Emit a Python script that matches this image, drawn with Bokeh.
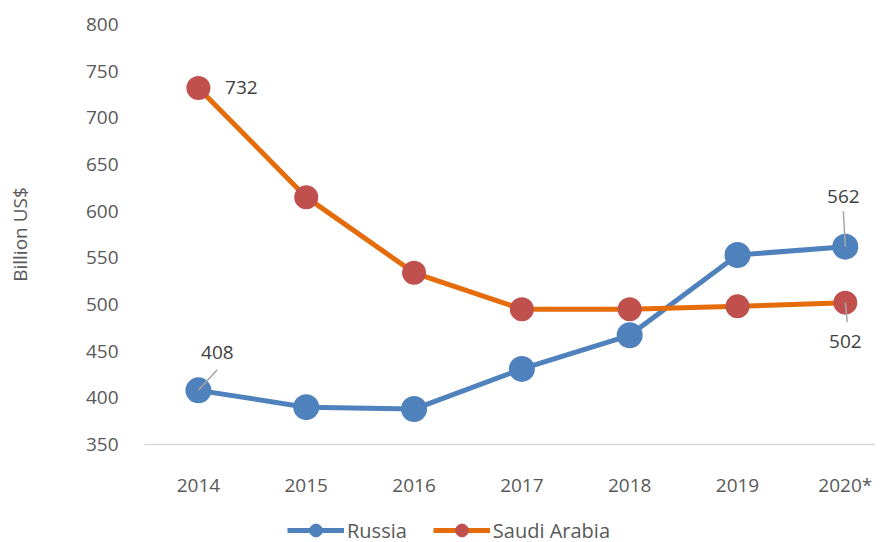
from bokeh.plotting import figure
from bokeh.layouts import column
from bokeh.models import Range1d, FixedTicker, Legend, LegendItem, ColumnDataSource
from bokeh.core.properties import value
from bokeh.embed import file_html
from bokeh.resources import INLINE

years = ["2014", "2015", "2016", "2017", "2018", "2019", "2020*"]
russia = [408, 390, 388, 431, 467, 553, 562]
saudi = [732, 615, 534, 495, 495, 498, 502]
y_ticks = [350, 400, 450, 500, 550, 600, 650, 700, 750, 800]
series_names = ["Russia", "Saudi Arabia"]

FONT = "Open Sans"
BLUE, ORANGE, RED = "#4F81BD", "#E46C0A", "#C0504D"
x = list(range(len(years)))

p = figure(width=875, height=500, output_backend="svg", toolbar_location=None,
           x_range=Range1d(-0.5, 6.28), y_range=Range1d(350, 800),
           min_border_left=144, min_border_right=0, min_border_top=24, min_border_bottom=53)
p.outline_line_color = None
p.xgrid.visible = False
p.ygrid.visible = False

# axes
p.xaxis.ticker = FixedTicker(ticks=x)
p.xaxis.major_label_overrides = {i: y for i, y in enumerate(years)}
p.xaxis.major_label_text_font = FONT
p.xaxis.major_label_text_font_size = "19px"
p.xaxis.major_label_text_color = "#595959"
p.xaxis.major_tick_line_color = None
p.xaxis.minor_tick_line_color = None
p.xaxis.axis_line_color = "#D9D9D9"
p.xaxis.axis_line_width = 1.5
p.xaxis.major_label_standoff = 21

p.yaxis.ticker = FixedTicker(ticks=y_ticks)
p.yaxis.major_label_text_font = FONT
p.yaxis.major_label_text_font_size = "19px"
p.yaxis.major_label_text_color = "#595959"
p.yaxis.major_tick_line_color = None
p.yaxis.minor_tick_line_color = None
p.yaxis.axis_line_color = None
p.yaxis.major_label_standoff = 20
p.yaxis.axis_label = "Billion US$"
p.yaxis.axis_label_text_font = FONT
p.yaxis.axis_label_text_font_size = "19px"
p.yaxis.axis_label_text_font_style = "normal"
p.yaxis.axis_label_text_color = "#595959"
p.yaxis.axis_label_standoff = 50

# series
r1 = p.line(x, russia, line_color=BLUE, line_width=5)
s1 = p.scatter(x, russia, size=26, fill_color=BLUE, line_color=BLUE, line_width=0)
r2 = p.line(x, saudi, line_color=ORANGE, line_width=5)
s2 = p.scatter(x, saudi, size=24, fill_color=RED, line_color=RED, line_width=0)

# data labels (pixel offsets) and leader lines (data units)
lab = ColumnDataSource(dict(
    x=[0, 0, 6, 6],
    y=[saudi[0], russia[0], russia[6], saudi[6]],
    text=[str(saudi[0]), str(russia[0]), str(russia[6]), str(saudi[6])],
    xo=[43, 19, -2, 0],
    yo=[0, -38, -50, 39],
))
p.text("x", "y", text="text", x_offset="xo", y_offset="yo", source=lab,
       text_font=value(FONT), text_font_size="19px", text_color="#404040",
       text_align="center", text_baseline="middle")

lead = ColumnDataSource(dict(
    x0=[0, 6, 6],
    y0=[russia[0], russia[6], saudi[6]],
    x1=[0.175, 5.982, 6.018],
    y1=[russia[0] + 22, russia[6] + 38, saudi[6] - 21],
))
p.segment("x0", "y0", "x1", "y1", source=lead, line_color="#A6A6A6", line_width=1.5)

# legend in its own strip below the chart (proxy renderers lie outside its range)
lf = figure(width=875, height=42, output_backend="svg", toolbar_location=None,
            x_axis_type=None, y_axis_type=None, x_range=Range1d(0, 1), y_range=Range1d(0, 1),
            min_border=0)
lf.outline_line_color = None
lf.xgrid.visible = False
lf.ygrid.visible = False
px, py = [x[-1] + 10], [russia[-1]]
lr1 = lf.line(px, py, line_color=BLUE, line_width=5)
ls1 = lf.scatter(px, py, size=14, fill_color=BLUE, line_color=BLUE)
lr2 = lf.line(px, py, line_color=ORANGE, line_width=5)
ls2 = lf.scatter(px, py, size=14, fill_color=RED, line_color=RED)
legend = Legend(items=[LegendItem(label=series_names[0], renderers=[lr1, ls1]),
                       LegendItem(label=series_names[1], renderers=[lr2, ls2])],
                orientation="horizontal", location=(143, -4),
                border_line_color=None, background_fill_alpha=0,
                label_text_font=FONT, label_text_font_size="20px",
                label_text_color="#595959", glyph_width=57, glyph_height=32,
                spacing=26, label_standoff=3, padding=0, margin=0)
lf.add_layout(legend, "center")

open("out.html", "w").write(file_html(column(p, lf, spacing=0), INLINE))
